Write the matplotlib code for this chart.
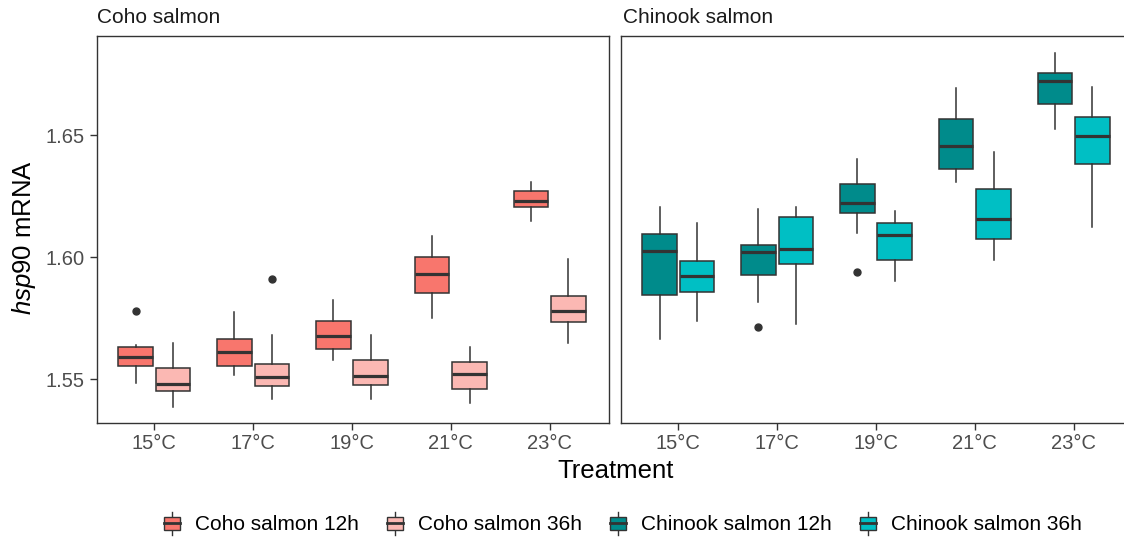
import matplotlib
matplotlib.use('Agg')
import matplotlib.pyplot as plt
from matplotlib.patches import Patch, Rectangle
from matplotlib.lines import Line2D
from matplotlib.legend_handler import HandlerBase

plt.rcParams['font.family'] = ['Liberation Sans', 'DejaVu Sans']
plt.rcParams['mathtext.fontset'] = 'custom'
plt.rcParams['mathtext.rm'] = 'Liberation Sans'
plt.rcParams['mathtext.it'] = 'Liberation Sans:italic'

# Treatments (x categories)
treatments = ['15°C', '17°C', '19°C', '21°C', '23°C']

# Box summaries: lower whisker, Q1, median, Q3, upper whisker
coho12_lo = [1.5482, 1.5516, 1.5577, 1.5751, 1.6148]
coho12_q1 = [1.5555, 1.5552, 1.5623, 1.5851, 1.6204]
coho12_med = [1.5590, 1.5612, 1.5676, 1.5929, 1.6228]
coho12_q3 = [1.5631, 1.5664, 1.5740, 1.6001, 1.6271]
coho12_hi = [1.5641, 1.5776, 1.5824, 1.6086, 1.6309]
coho12_out = [[1.5780], [], [], [], []]

coho36_lo = [1.5385, 1.5417, 1.5418, 1.5404, 1.5649]
coho36_q1 = [1.5452, 1.5471, 1.5475, 1.5460, 1.5735]
coho36_med = [1.5478, 1.5507, 1.5512, 1.5522, 1.5780]
coho36_q3 = [1.5544, 1.5560, 1.5579, 1.5571, 1.5839]
coho36_hi = [1.5648, 1.5682, 1.5680, 1.5631, 1.5991]
coho36_out = [[], [1.5910], [], [], []]

chin12_lo = [1.5665, 1.5817, 1.6097, 1.6306, 1.6526]
chin12_q1 = [1.5844, 1.5926, 1.6180, 1.6361, 1.6627]
chin12_med = [1.6023, 1.6022, 1.6221, 1.6454, 1.6723]
chin12_q3 = [1.6093, 1.6050, 1.6299, 1.6564, 1.6755]
chin12_hi = [1.6205, 1.6197, 1.6400, 1.6694, 1.6835]
chin12_out = [[], [1.5712], [1.5940], [], []]

chin36_lo = [1.5736, 1.5724, 1.5903, 1.5987, 1.6124]
chin36_q1 = [1.5855, 1.5970, 1.5988, 1.6073, 1.6382]
chin36_med = [1.5922, 1.6034, 1.6089, 1.6155, 1.6495]
chin36_q3 = [1.5985, 1.6163, 1.6141, 1.6279, 1.6574]
chin36_hi = [1.6139, 1.6205, 1.6189, 1.6430, 1.6696]
chin36_out = [[], [], [], [], []]

labels = ['Coho salmon 12h', 'Coho salmon 36h', 'Chinook salmon 12h', 'Chinook salmon 36h']
colors = ['#F8766D', '#FBB8B3', '#008B8B', '#00BFC4']
edge = '#333333'


def make_stats(lo, q1, med, q3, hi, out):
    return [dict(whislo=a, q1=b, med=c, q3=d, whishi=e, fliers=f)
            for a, b, c, d, e, f in zip(lo, q1, med, q3, hi, out)]


def draw_boxes(ax, stats, offset, color):
    pos = [i + 1 + offset for i in range(len(stats))]
    bp = ax.bxp(stats, positions=pos, widths=0.35, patch_artist=True,
                showcaps=False,
                boxprops=dict(edgecolor=edge, linewidth=1.1),
                medianprops=dict(color=edge, linewidth=2.3, solid_capstyle='butt'),
                whiskerprops=dict(color=edge, linewidth=1.1),
                flierprops=dict(marker='o', markerfacecolor=edge, markeredgecolor=edge,
                                markersize=5, linestyle='none'))
    for b in bp['boxes']:
        b.set_facecolor(color)


class BoxHandler(HandlerBase):
    def create_artists(self, legend, orig_handle, xdescent, ydescent,
                       width, height, fontsize, trans):
        fc = orig_handle.get_facecolor()
        cx = width / 2 - xdescent
        y0 = -ydescent
        whisk = Line2D([cx, cx], [y0 - 3, y0 + height + 3], color=edge, lw=1.0, transform=trans)
        rect = Rectangle((-xdescent, y0 + height * 0.05), width, height * 0.9,
                         facecolor=fc, edgecolor=edge, lw=1.0, transform=trans)
        mid = y0 + height * 0.5
        med = Line2D([-xdescent, width - xdescent], [mid, mid], color=edge, lw=2.0, transform=trans)
        return [whisk, rect, med]


fig = plt.figure(figsize=(11.24, 5.4), dpi=100)
W, H = 1124, 540
ax1 = fig.add_axes([97 / W, 117 / H, 512 / W, 387 / H])
ax2 = fig.add_axes([621 / W, 117 / H, 512 / W, 387 / H], sharey=ax1)

draw_boxes(ax1, make_stats(coho12_lo, coho12_q1, coho12_med, coho12_q3, coho12_hi, coho12_out), -0.19, colors[0])
draw_boxes(ax1, make_stats(coho36_lo, coho36_q1, coho36_med, coho36_q3, coho36_hi, coho36_out), 0.19, colors[1])
draw_boxes(ax2, make_stats(chin12_lo, chin12_q1, chin12_med, chin12_q3, chin12_hi, chin12_out), -0.19, colors[2])
draw_boxes(ax2, make_stats(chin36_lo, chin36_q1, chin36_med, chin36_q3, chin36_hi, chin36_out), 0.19, colors[3])

for ax in (ax1, ax2):
    ax.set_xlim(0.42, 5.6)
    ax.set_xticks(range(1, 6))
    ax.set_xticklabels(treatments)
    for s in ax.spines.values():
        s.set_color(edge)
        s.set_linewidth(1.0)
    ax.tick_params(axis='x', length=5, width=1.0, color=edge, pad=3,
                   labelsize=14.5, labelcolor='#4D4D4D')
    ax.tick_params(axis='y', length=5, width=1.0, color=edge, pad=4,
                   labelsize=14.5, labelcolor='#4D4D4D')

ax1.set_ylim(1.532, 1.6906)
ax1.set_yticks([1.55, 1.60, 1.65])
ax1.set_yticklabels(['1.55', '1.60', '1.65'])
ax2.tick_params(axis='y', left=False, labelleft=False)

ax1.set_ylabel(r'$\mathit{hsp90}$ mRNA', fontsize=18.5, color='black')
ax1.yaxis.set_label_coords(-0.115, 0.48)

fig.text(97 / W, 1 - 17.5 / H, 'Coho salmon', fontsize=15, va='center', ha='left', color='#1A1A1A')
fig.text(623 / W, 1 - 17.5 / H, 'Chinook salmon', fontsize=15, va='center', ha='left', color='#1A1A1A')
fig.text(616 / W, 1 - 478 / H, 'Treatment', fontsize=18.5, ha='center', va='baseline', color='black')

handles = [Patch(facecolor=c, edgecolor=edge) for c in colors]
fig.legend(handles, labels, handler_map={Patch: BoxHandler()},
           loc='center', bbox_to_anchor=(623 / W, 15 / H), ncol=4, frameon=False,
           fontsize=15, handlelength=0.77, handleheight=0.7, handletextpad=0.72,
           columnspacing=1.35)

fig.savefig('out.png', dpi=100)
